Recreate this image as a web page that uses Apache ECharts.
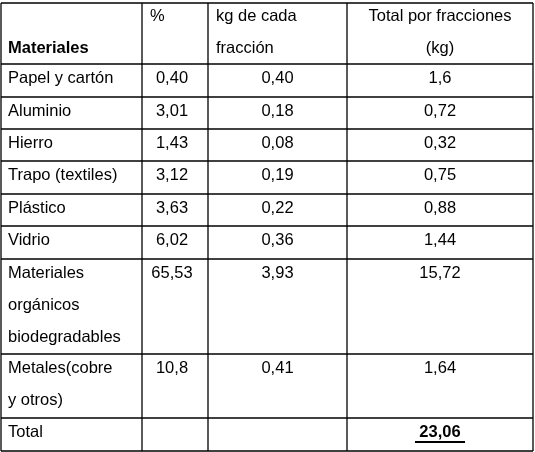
<!DOCTYPE html>
<html>
<head>
<meta charset="utf-8">
<script src="https://cdn.jsdelivr.net/npm/echarts@6/dist/echarts.min.js"></script>
<style>
  html, body { margin: 0; padding: 0; background: #fff; }
  #chart { width: 535px; height: 452px; }
</style>
</head>
<body>
<div id="chart"></div>
<script>
// table content
const materiales = ['Papel y cartón', 'Aluminio', 'Hierro', 'Trapo (textiles)', 'Plástico', 'Vidrio',
  'Materiales\norgánicos\nbiodegradables', 'Metales(cobre\ny otros)'];
const porcentaje = ['0,40', '3,01', '1,43', '3,12', '3,63', '6,02', '65,53', '10,8'];
const kgFraccion = ['0,40', '0,18', '0,08', '0,19', '0,22', '0,36', '3,93', '0,41'];
const totalFraccion = ['1,6', '0,72', '0,32', '0,75', '0,88', '1,44', '15,72', '1,64'];
const totalLabel = 'Total';
const totalValue = '23,06';

// layout
const colX = [1, 142, 208, 347, 533];
const rowY = [3, 64, 97, 129, 161, 194, 226, 259, 354, 418, 451];
const lineH = 32;
const font = '16.5px "Liberation Sans", Arial, sans-serif';

const els = [];
const line = (x1, y1, x2, y2, w) => els.push({
  type: 'line', shape: { x1, y1, x2, y2 }, style: { stroke: '#000', lineWidth: w || 1.3 }
});
const txt = (s, x, y, align, bold) => els.push({
  type: 'text', x, y,
  style: { text: s, font: (bold ? 'bold ' : '') + font, fill: '#000', align, verticalAlign: 'middle', lineHeight: lineH }
});

rowY.forEach(y => line(colX[0], y, colX[4], y));
colX.forEach(x => line(x, rowY[0], x, rowY[rowY.length - 1]));

const mid = i => (colX[i] + colX[i + 1]) / 2;
// header
txt('Materiales', 8, rowY[0] + 13 + lineH, 'left', true);
txt('%', 150, rowY[0] + 13, 'left');
txt('kg de cada\nfracción', 216, rowY[0] + 13 + lineH / 2, 'left');
txt('Total por fracciones\n(kg)', mid(3), rowY[0] + 13 + lineH / 2, 'center');

materiales.forEach((m, i) => {
  const top = rowY[i + 1];
  const n = m.split('\n').length;
  txt(m, 8, top + 14 + (n - 1) * lineH / 2, 'left');
  txt(porcentaje[i], mid(1) - 3, top + 14, 'center');
  txt(kgFraccion[i], mid(2), top + 14, 'center');
  txt(totalFraccion[i], mid(3), top + 14, 'center');
});

const tTop = rowY[rowY.length - 2];
txt(totalLabel, 8, tTop + 14, 'left');
txt(totalValue, mid(3), tTop + 14, 'center', true);
line(mid(3) - 25, tTop + 24, mid(3) + 25, tTop + 24, 2);

const chart = echarts.init(document.getElementById('chart'));
chart.setOption({ animation: false, graphic: { elements: els } });
</script>
</body>
</html>
